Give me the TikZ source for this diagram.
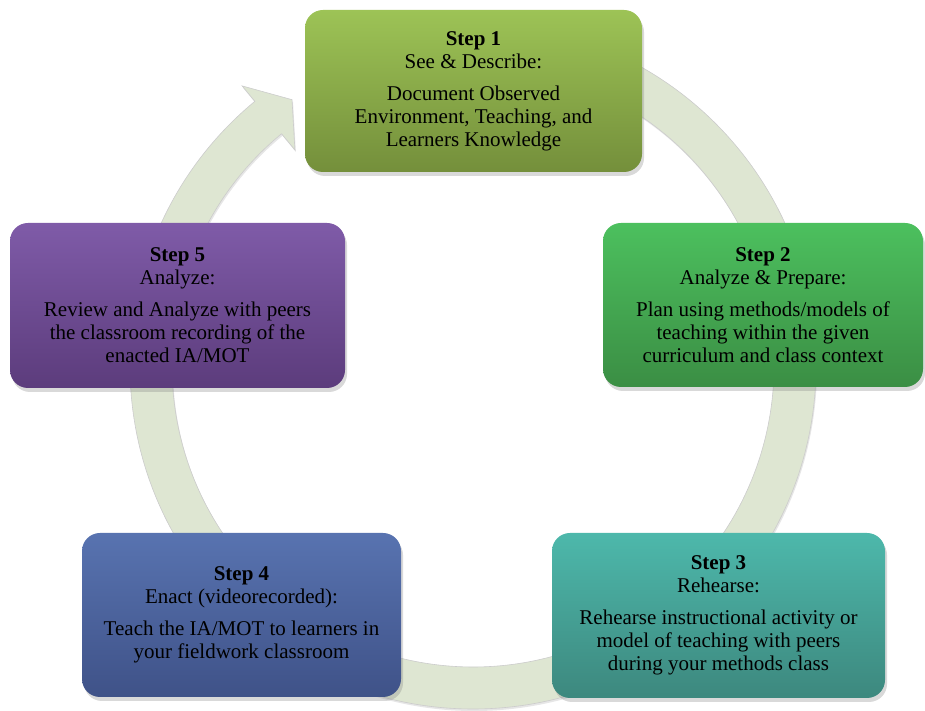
\documentclass[tikz,border=0pt]{standalone}
\usepackage{fontspec}
\setmainfont{Liberation Serif}
\usetikzlibrary{calc,shadows}

\definecolor{ringgray}{HTML}{DEE6D2}
\definecolor{seetop}{HTML}{9DC356}
\definecolor{seebot}{HTML}{748F3B}
\definecolor{plantop}{HTML}{4CC05E}
\definecolor{planbot}{HTML}{3B8E44}
\definecolor{rehtop}{HTML}{4DB8AB}
\definecolor{rehbot}{HTML}{3D887E}
\definecolor{enacttop}{HTML}{5873B0}
\definecolor{enactbot}{HTML}{3F5288}
\definecolor{revtop}{HTML}{7F5BA8}
\definecolor{revbot}{HTML}{5C3C7C}

\begin{document}
\begin{tikzpicture}[x=1pt,y=1pt,every node/.style={font=\fontsize{21}{23}\selectfont},
  stage/.style={rounded corners=18pt,align=center,inner sep=0pt,
    drop shadow={shadow xshift=2pt,shadow yshift=-4pt,opacity=.3}}]
  \useasboundingbox (0,0) rectangle (925,711);
  \coordinate (hub) at (473,345);
  % the cycle arrow, runs clockwise behind the boxes
  \fill[ringgray,draw=black!20,line width=.6pt,drop shadow={shadow xshift=1pt,shadow yshift=-2pt,opacity=.2}]
    ($(hub)+(90:343)$) arc[start angle=90,end angle=-230.5,radius=343]
    -- ($(hub)+(129.5:363)$) -- ($(hub)+(124.2:322)$) -- ($(hub)+(129.5:280)$)
    -- ($(hub)+(129.5:301)$) arc[start angle=129.5,end angle=450,radius=301] -- cycle;
  % the five steps
  \node[stage,top color=seetop,bottom color=seebot,minimum width=337pt,minimum height=162pt] (see) at (473.5,620)
    {\textbf{Step 1}\\See \& Describe:\\[9pt]Document Observed\\Environment, Teaching, and\\Learners Knowledge};
  \node[stage,top color=plantop,bottom color=planbot,minimum width=320pt,minimum height=164pt] (plan) at (763,406)
    {\textbf{Step 2}\\Analyze \& Prepare:\\[9pt]Plan using methods/models of\\teaching within the given\\curriculum and class context};
  \node[stage,top color=rehtop,bottom color=rehbot,minimum width=333pt,minimum height=165pt] (rehearse) at (718.5,95.5)
    {\textbf{Step 3}\\Rehearse:\\[9pt]Rehearse instructional activity or\\model of teaching with peers\\during your methods class};
  \node[stage,top color=enacttop,bottom color=enactbot,minimum width=319pt,minimum height=164pt] (enact) at (241.5,96)
    {\textbf{Step 4}\\Enact (videorecorded):\\[9pt]Teach the IA/MOT to learners in\\your fieldwork classroom};
  \node[stage,top color=revtop,bottom color=revbot,minimum width=335pt,minimum height=165pt] (review) at (177.5,405.5)
    {\textbf{Step 5}\\Analyze:\\[9pt]Review and Analyze with peers\\the classroom recording of the\\enacted IA/MOT};
\end{tikzpicture}
\end{document}
